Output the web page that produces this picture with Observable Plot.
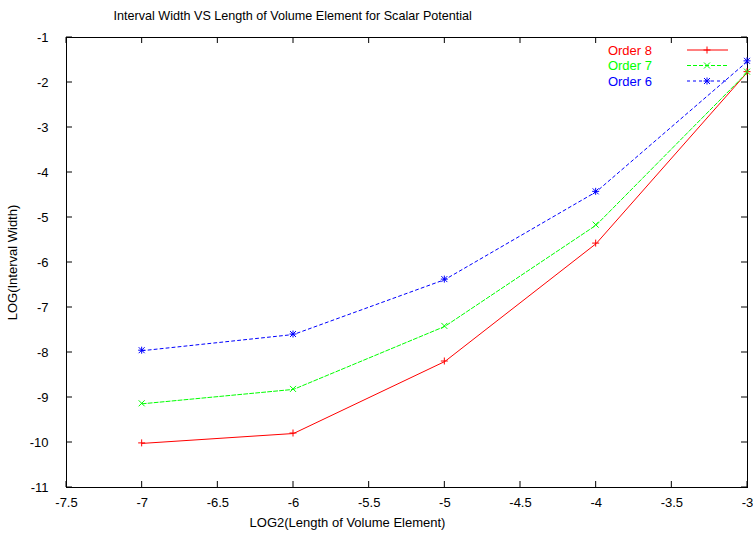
<!DOCTYPE html>
<html>
<head>
<meta charset="utf-8">
<script src="https://cdn.jsdelivr.net/npm/d3@7"></script>
<script src="https://cdn.jsdelivr.net/npm/@observablehq/plot@0.6"></script>
<style>
  body { margin: 0; background: white; }
</style>
</head>
<body>
<div id="chart"></div>
<script>
const xValues = [-7, -6, -5, -4, -3];
const order8 = [-10.02, -9.80, -8.20, -5.58, -1.77];
const order7 = [-9.14, -8.82, -7.42, -5.17, -1.77];
const order6 = [-7.96, -7.60, -6.38, -4.43, -1.53];
const seriesNames = ["Order 8", "Order 7", "Order 6"];
const seriesColors = ["#ff0000", "#00ff00", "#0000ff"];
const seriesDash = [null, "4,2", "3,3"];
const seriesSymbols = ["plus", "times", "asterisk"];
const xTicks = [-7.5, -7, -6.5, -6, -5.5, -5, -4.5, -4, -3.5, -3];
const yTicks = [-1, -2, -3, -4, -5, -6, -7, -8, -9, -10, -11];
const title = "Interval Width VS Length of Volume Element for Scalar Potential";
const xLabel = "LOG2(Length of Volume Element)";
const yLabel = "LOG(Interval Width)";

const seriesValues = [order8, order7, order6];
const rows = [];
seriesNames.forEach((name, i) => {
  xValues.forEach((x, j) => rows.push({series: name, x, y: seriesValues[i][j]}));
});

const symbolPaths = {
  plus: "M-3.5,0H3.5M0,-3.5V3.5",
  times: "M-3,-3L3,3M-3,3L3,-3",
  asterisk: "M-3.5,0H3.5M0,-3.5V3.5M-3,-3L3,3M-3,3L3,-3"
};

const lineMarks = [];
seriesNames.forEach((name, i) => {
  const data = rows.filter(r => r.series === name);
  lineMarks.push(Plot.line(data, {x: "x", y: "y", stroke: seriesColors[i], strokeWidth: 1, strokeDasharray: seriesDash[i]}));
});

const chart = Plot.plot({
  width: 753,
  height: 533,
  marginTop: 37,
  marginBottom: 46,
  marginLeft: 66,
  marginRight: 6,
  style: {fontFamily: "'Liberation Sans', Arial, sans-serif", fontSize: "13px", background: "white", color: "black"},
  x: {domain: [-7.5, -3]},
  y: {domain: [-11, -1]},
  marks: [
    Plot.axisX({ticks: xTicks, tickSize: 0, tickPadding: 10, tickFormat: d => String(d), label: null, fontSize: 13}),
    Plot.axisY({ticks: yTicks, tickSize: 0, tickPadding: 18, tickFormat: d => String(d), label: null, fontSize: 13}),
    Plot.frame({stroke: "black", strokeWidth: 1}),
    ...lineMarks,
    Plot.text([title], {frameAnchor: "top-left", dx: 47, dy: -22, textAnchor: "start", lineAnchor: "middle", fontSize: 12.6}),
    Plot.text([xLabel], {frameAnchor: "bottom-left", dx: 281, dy: 35, textAnchor: "middle", lineAnchor: "middle", fontSize: 13}),
    Plot.text([yLabel], {frameAnchor: "left", dx: -54, rotate: -90, textAnchor: "middle", lineAnchor: "middle", fontSize: 13})
  ]
});

const svg = d3.select(chart);
const sx = chart.scale("x"), sy = chart.scale("y");
const [x0, x1] = sx.range, [y0, y1] = sy.range; // y0 bottom, y1 top
const tickLen = 6;
const ticks = svg.append("g").attr("stroke", "black").attr("stroke-width", 1);
xTicks.forEach(t => {
  const x = sx.apply(t);
  ticks.append("line").attr("x1", x).attr("x2", x).attr("y1", y0).attr("y2", y0 - tickLen);
  ticks.append("line").attr("x1", x).attr("x2", x).attr("y1", y1).attr("y2", y1 + tickLen);
});
yTicks.forEach(t => {
  const y = sy.apply(t);
  ticks.append("line").attr("x1", x0).attr("x2", x0 + tickLen).attr("y1", y).attr("y2", y);
  ticks.append("line").attr("x1", x1).attr("x2", x1 - tickLen).attr("y1", y).attr("y2", y);
});

// point markers (gnuplot-style), positioned through Plot's scales
const pts = svg.append("g").attr("fill", "none");
rows.forEach(r => {
  const i = seriesNames.indexOf(r.series);
  pts.append("path").attr("transform", `translate(${sx.apply(r.x)},${sy.apply(r.y)})`)
    .attr("d", symbolPaths[seriesSymbols[i]]).attr("stroke", seriesColors[i]);
});

// Legend (gnuplot-style key, top right inside the frame)
const legend = svg.append("g").attr("font-family", "'Liberation Sans', Arial, sans-serif").attr("font-size", 13);
seriesNames.forEach((name, i) => {
  const y = 50 + i * 15.5;
  legend.append("text").attr("x", 652).attr("y", y).attr("dy", "0.35em")
    .attr("text-anchor", "end").attr("fill", seriesColors[i]).text(name);
  legend.append("line").attr("x1", 687).attr("x2", 728).attr("y1", y).attr("y2", y)
    .attr("stroke", seriesColors[i]).attr("stroke-width", 1)
    .attr("stroke-dasharray", seriesDash[i]);
  legend.append("path").attr("transform", `translate(707,${y})`).attr("d", symbolPaths[seriesSymbols[i]])
    .attr("stroke", seriesColors[i]).attr("fill", "none");
});

document.getElementById("chart").appendChild(chart);
</script>
</body>
</html>
